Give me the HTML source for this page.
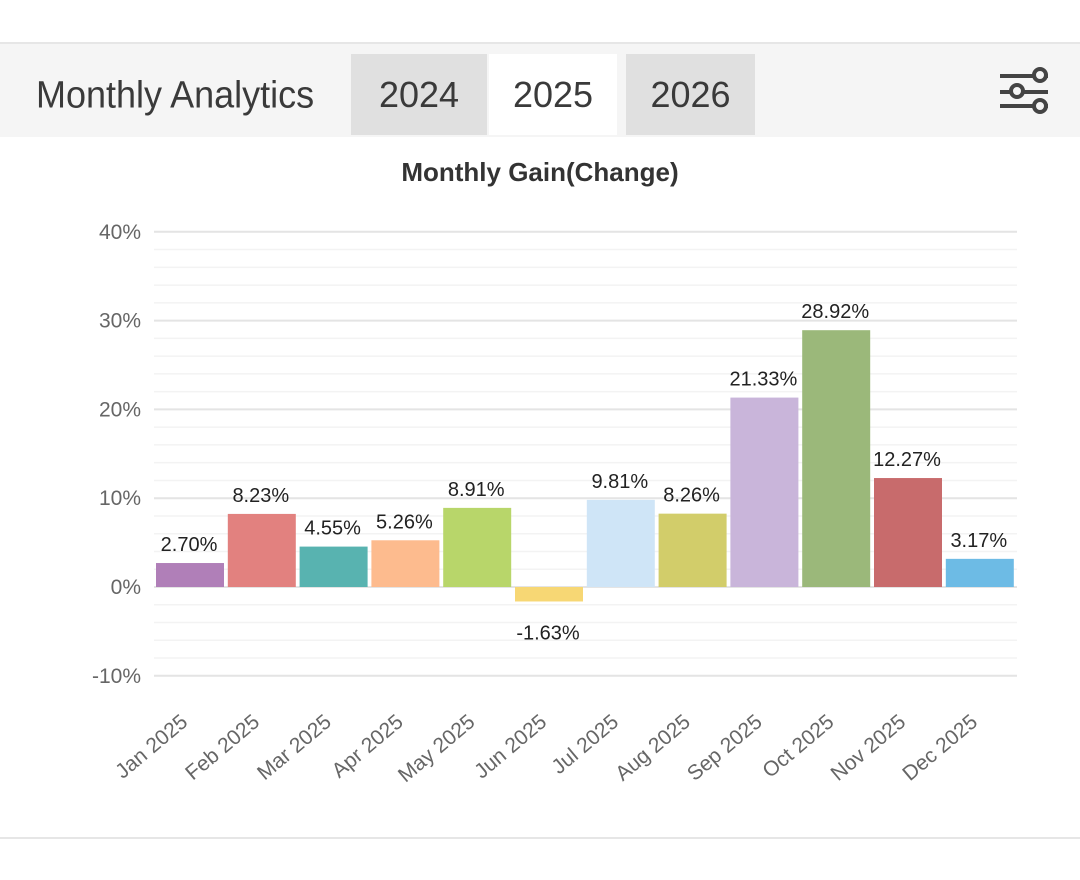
<!DOCTYPE html>
<html><head><style>
body{margin:0;width:1080px;height:880px;background:#fff;font-family:"Liberation Sans",sans-serif;position:relative;overflow:hidden}
.band{position:absolute;left:0;top:42px;width:1080px;height:93px;background:#f5f5f5;border-top:2px solid #e6e6e6}
.t{position:absolute;font-size:36px;color:#3a3a3a;transform:scaleY(1.05)}
.tab{position:absolute;top:54px;height:81px;line-height:81px;text-align:center;font-size:36px;color:#3a3a3a}
</style></head><body>
<div class="band"></div>
<div class="t" style="left:36px;top:74px">Monthly Analytics</div>
<div class="tab" style="left:351px;width:136px;background:#e0e0e0">2024</div>
<div class="tab" style="left:489px;width:128px;background:#fff">2025</div>
<div class="tab" style="left:626px;width:129px;background:#e0e0e0">2026</div>
<svg style="position:absolute;left:0;top:0" width="1080" height="880">
<g stroke="#444" stroke-width="4" fill="#f5f5f5">
<line x1="1000" y1="76" x2="1048" y2="76"/><line x1="1000" y1="92" x2="1048" y2="92"/><line x1="1000" y1="106" x2="1048" y2="106"/>
<circle cx="1040" cy="75" r="6"/><circle cx="1017" cy="91" r="6"/><circle cx="1040" cy="106" r="6"/>
</g>
<text x="540" y="181" text-anchor="middle" font-size="26" font-weight="bold" fill="#333">Monthly Gain(Change)</text>
<g id="grid"></g>
<g id="bars"></g>
<line x1="0" y1="838" x2="1080" y2="838" stroke="#e6e6e6" stroke-width="2"/>
</svg>
<script>
var ns="http://www.w3.org/2000/svg",svg=document.querySelector('svg'),g=document.getElementById('grid'),b=document.getElementById('bars');
function el(p,n,a,t){var e=document.createElementNS(ns,n);for(var k in a)e.setAttribute(k,a[k]);if(t)e.textContent=t;p.appendChild(e);return e}
function Y(v){return 587-v*8.88}
for(var v=-10;v<=40;v+=2){var maj=v%10==0;el(g,'line',{x1:154,x2:1017,y1:Y(v),y2:Y(v),stroke:maj?'#e4e4e4':'#f3f3f3','stroke-width':maj?2:1.5});
if(maj)el(g,'text',{x:141,y:Y(v)+7,'text-anchor':'end','font-size':21,fill:'#666'},v+'%')}
var d=[2.70,8.23,4.55,5.26,8.91,-1.63,9.81,8.26,21.33,28.92,12.27,3.17],
c=['#b07fb8','#e2817f','#58b3b0','#fdbb8e','#b8d66a','#f7d774','#cfe5f7','#d2cd6a','#c9b5da','#9bb87a','#c86b6c','#6dbbe5'],
m=['Jan','Feb','Mar','Apr','May','Jun','Jul','Aug','Sep','Oct','Nov','Dec'];
for(var i=0;i<12;i++){var x=155+i*71.8,cx=x+34,v=d[i];
el(b,'rect',{x:x+1,y:Math.min(Y(v),Y(0)),width:68,height:Math.abs(Y(v)-Y(0)),fill:c[i]});
el(b,'text',{x:cx,y:v>=0?Y(v)-12:Y(v)+38,'text-anchor':'middle','font-size':20,fill:'#222'},v.toFixed(2)+'%');
el(b,'text',{x:cx,y:724,'text-anchor':'end','font-size':21,fill:'#666',transform:'rotate(-40 '+cx+' 724)'},m[i]+' 2025');}
</script>
</body></html>
